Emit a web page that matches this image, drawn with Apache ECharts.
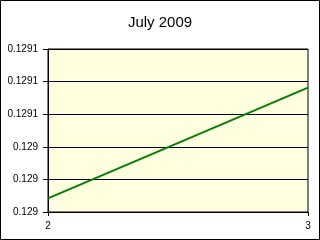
<!DOCTYPE html>
<html><head><meta charset="utf-8">
<script src="https://cdn.jsdelivr.net/npm/echarts@6/dist/echarts.min.js"></script>
<style>html,body{margin:0;padding:0;background:#fff}#c{width:320px;height:240px}</style>
</head><body><div id="c"></div>
<script>
const title = "July 2009";
const xValues = [2, 3];
const yValues = [0.1290084, 0.1290763];
const yMin = 0.1290, yMax = 0.1291, yStep = 0.00002;
const xMin = 2, xMax = 3;

const chart = echarts.init(document.getElementById('c'), null, {renderer: 'canvas'});
chart.setOption({
  animation: false,
  backgroundColor: '#ffffff',
  title: {text: title, left: 'center', top: 10, textStyle: {fontFamily: 'Liberation Sans, Arial', fontSize: 15, fontWeight: 'normal', color: '#000'}},
  graphic: [{type: 'rect', shape: {x: 0.5, y: 0.5, width: 319, height: 239}, style: {fill: 'none', stroke: '#000', lineWidth: 1}, silent: true}],
  grid: {left: 48, right: 12, top: 49, bottom: 28, show: true, backgroundColor: '#ffffe0', borderColor: '#000', borderWidth: 1},
  xAxis: {type: 'value', min: xMin, max: xMax, interval: 1,
    axisLine: {lineStyle: {color: '#000'}}, axisTick: {length: 4, lineStyle: {color: '#000'}},
    splitLine: {show: false},
    axisLabel: {color: '#000', fontFamily: 'Liberation Sans, Arial', fontSize: 10, margin: 9}},
  yAxis: {type: 'value', min: yMin, max: yMax, interval: yStep,
    axisLine: {show: true, lineStyle: {color: '#000'}}, axisTick: {show: true, length: 5, lineStyle: {color: '#000'}},
    splitLine: {show: true, lineStyle: {color: '#000'}},
    axisLabel: {color: '#000', fontFamily: 'Liberation Sans, Arial', fontSize: 10, margin: 10,
      formatter: v => String(Number(v.toFixed(4)))}},
  series: [{type: 'line', data: xValues.map((x, i) => [x, yValues[i]]), showSymbol: false, lineStyle: {color: '#008000', width: 2}}]
});
</script></body></html>
